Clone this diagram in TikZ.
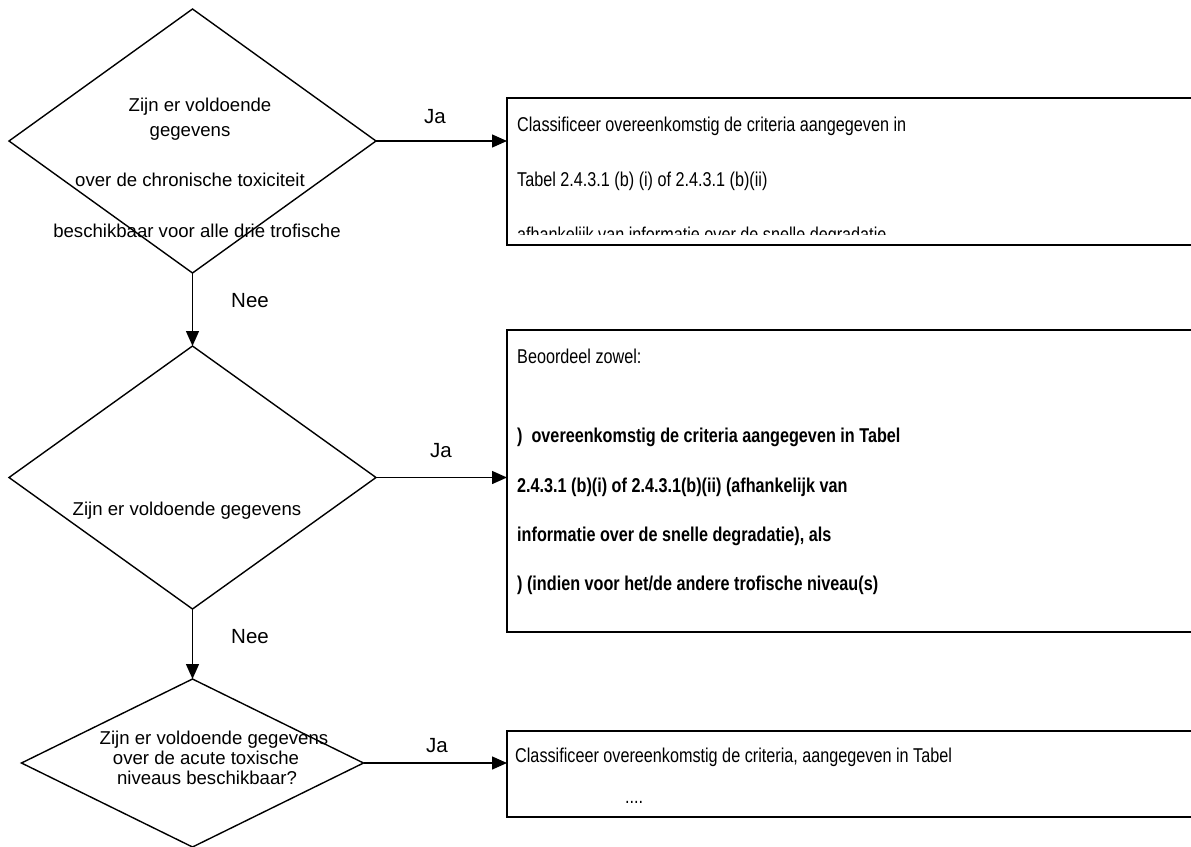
\documentclass[tikz,border=0pt]{standalone}
\usepackage{fontspec}
\setmainfont{Liberation Sans}
\newfontfamily\narrowfont{Liberation Sans}[FakeStretch=0.81]
\usetikzlibrary{shapes.geometric,arrows.meta}
\begin{document}
\begin{tikzpicture}[x=1pt,y=-1pt,
  dia/.style={draw,shape=diamond,inner sep=0pt,outer sep=0pt,line width=1.4pt},
  box/.style={draw,rectangle,inner sep=0pt,outer sep=0pt,line width=1.9pt,anchor=north west},
  dtext/.style={font=\fontsize{18.6}{21}\selectfont,anchor=base,inner sep=0pt},
  btext/.style={font=\narrowfont\fontsize{20}{23}\selectfont,anchor=base west,inner sep=0pt},
  bbtext/.style={font=\narrowfont\bfseries\fontsize{20}{23}\selectfont,anchor=base west,inner sep=0pt},
  lab/.style={font=\fontsize{20.5}{24}\selectfont,anchor=base,inner sep=0pt},
  conn/.style={line width=1.4pt,-{Triangle[length=15pt,width=13pt]}}]
\useasboundingbox (0,0) rectangle (1191,846);
\clip (0,0) rectangle (1191,846);

% decision diamonds
\node[dia,minimum width=367pt,minimum height=264pt] (d1) at (192.5,141) {};
\node[dia,minimum width=367pt,minimum height=263pt] (d2) at (192.5,477.5) {};
\node[dia,minimum width=342pt,minimum height=168pt] (d3) at (192.5,763) {};

% result boxes
\node[box,minimum width=720pt,minimum height=147pt] (b1) at (507,98) {};
\node[box,minimum width=720pt,minimum height=302pt] (b2) at (507,330) {};
\node[box,minimum width=720pt,minimum height=86pt] (b3) at (507,731) {};

% diamond texts
\node[dtext] (d1a) at (200,111) {Zijn er voldoende};
\node[dtext] (d1b) at (190,136.5) {gegevens};
\node[dtext] (d1c) at (190,186.5) {over de chronische toxiciteit};
\node[dtext] (d1d) at (197,237) {beschikbaar voor alle drie trofische};
\node[dtext] (d2a) at (187,515) {Zijn er voldoende gegevens};
\node[dtext] (d3a) at (214,744.5) {Zijn er voldoende gegevens};
\node[dtext] (d3b) at (206,764.5) {over de acute toxische};
\node[dtext] (d3c) at (207,784.5) {niveaus beschikbaar?};

% box texts
\node[btext] (b1a) at (517,131) {Classificeer overeenkomstig de criteria aangegeven in};
\node[btext] (b1b) at (517,186) {Tabel 2.4.3.1 (b) (i) of 2.4.3.1 (b)(ii)};
\begin{scope}
\clip (507,98) rectangle (1191,234);
\node[btext] (b1c) at (517,241) {afhankelijk van informatie over de snelle degradatie};
\end{scope}

\node[btext] (b2a) at (517,363) {Beoordeel zowel:};
\node[bbtext] (b2b) at (517,442) {)\ \ overeenkomstig de criteria aangegeven in Tabel};
\node[bbtext] (b2c) at (517,492) {2.4.3.1 (b)(i) of 2.4.3.1(b)(ii) (afhankelijk van};
\node[bbtext] (b2d) at (517,541) {informatie over de snelle degradatie), als};
\node[bbtext] (b2e) at (517,590) {) (indien voor het/de andere trofische niveau(s)};

\node[btext] (b3a) at (515,762) {Classificeer overeenkomstig de criteria, aangegeven in Tabel};
\node[btext] (b3b) at (625,803) {....};

% connectors
\draw[conn] (d1.south) -- (d2.north);
\draw[conn] (d2.south) -- (d3.north);
\draw[conn] (d1.east) -- (d1.east -| b1.west);
\draw[conn] (d2.east) -- (d2.east -| b2.west);
\draw[conn] (d3.east) -- (d3.east -| b3.west);

% labels
\node[lab] (ja1) at (435,123) {Ja};
\node[lab] (ja2) at (441,457) {Ja};
\node[lab] (ja3) at (437,752) {Ja};
\node[lab] (nee1) at (250,307) {Nee};
\node[lab] (nee2) at (250,643) {Nee};
\end{tikzpicture}
\end{document}
